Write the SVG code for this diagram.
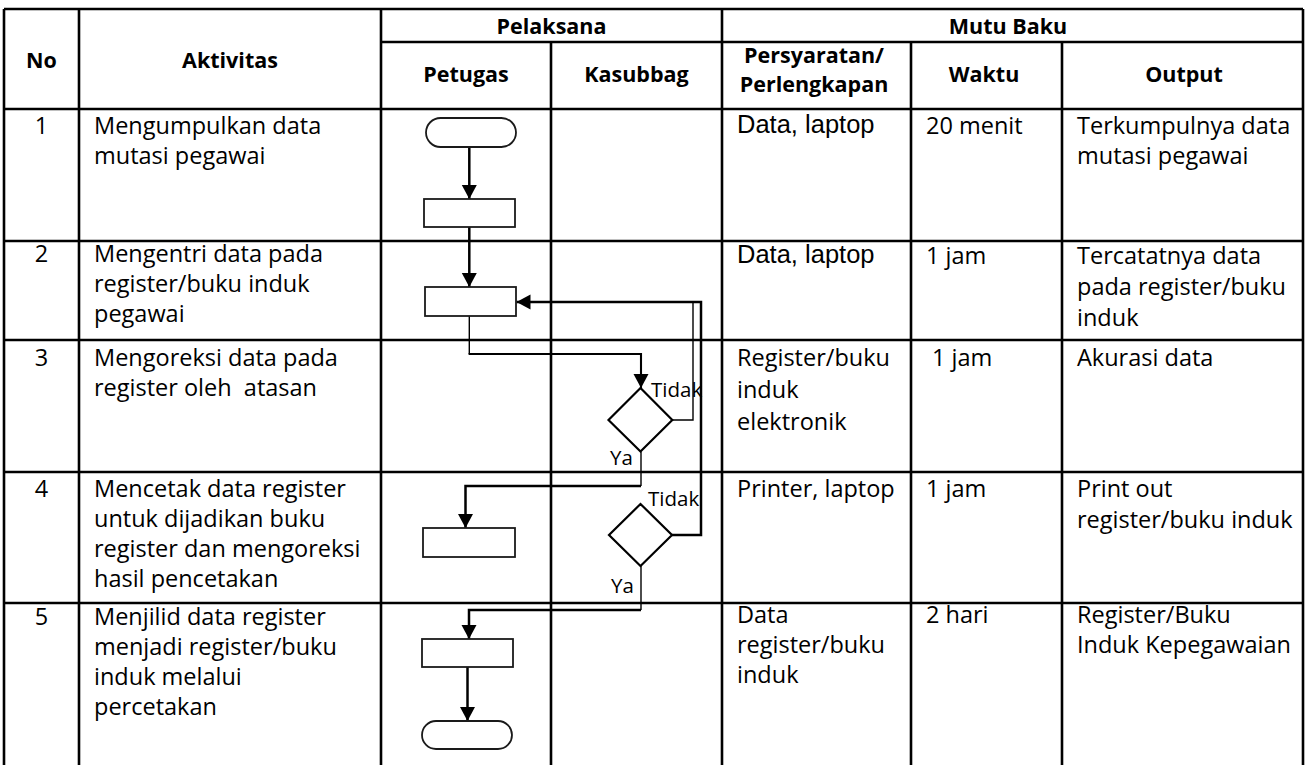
<svg xmlns="http://www.w3.org/2000/svg" width="1306" height="765" viewBox="0 0 1306 765">
<style>
.grid line{stroke:#000;stroke-width:2.6}
.h{font-family:"Open Sans","Noto Sans",sans-serif;font-weight:bold;font-size:21.5px;text-anchor:middle;fill:#000}
.t{font-family:"Open Sans","Noto Sans",sans-serif;font-size:23.5px;fill:#000}
.n{font-family:"Open Sans","Noto Sans",sans-serif;font-size:23.5px;fill:#000;text-anchor:middle}
.a{font-family:"Liberation Sans",Arial,sans-serif;font-size:25.5px;fill:#000}
.lb{font-family:"Open Sans","Noto Sans",sans-serif;font-size:20.5px;fill:#000}
.box{fill:#fff;stroke:#1a1a1a;stroke-width:1.8}
.dia{fill:#fff;stroke:#000;stroke-width:2.2}
.c{fill:none;stroke:#000;stroke-linejoin:miter}
.thick{stroke-width:2.5}
.mid{stroke-width:2.1}
.thin{stroke-width:1.4}
</style>
<defs>
<marker id="ah" markerUnits="userSpaceOnUse" markerWidth="15" markerHeight="16" refX="14" refY="7.5" orient="auto">
<path d="M0,0 L14,7.5 L0,15 z" fill="#000"/>
</marker>
</defs>
<rect x="0" y="0" width="1306" height="765" fill="#fff"/>
<g id="table" class="grid">
<line x1="4" y1="9" x2="1303" y2="9"/>
<line x1="381" y1="42" x2="1303" y2="42"/>
<line x1="4" y1="109" x2="1303" y2="109"/>
<line x1="4" y1="241" x2="1303" y2="241"/>
<line x1="4" y1="340" x2="1303" y2="340"/>
<line x1="4" y1="472" x2="1303" y2="472"/>
<line x1="4" y1="603" x2="1303" y2="603"/>
<line x1="4" y1="9" x2="4" y2="765"/>
<line x1="79" y1="9" x2="79" y2="765"/>
<line x1="381" y1="9" x2="381" y2="765"/>
<line x1="551" y1="42" x2="551" y2="765"/>
<line x1="722" y1="9" x2="722" y2="765"/>
<line x1="911" y1="42" x2="911" y2="765"/>
<line x1="1062" y1="42" x2="1062" y2="765"/>
<line x1="1303" y1="9" x2="1303" y2="765"/>
</g>
<g id="headers">
<text class="h" x="41.5" y="68">No</text>
<text class="h" x="230" y="68">Aktivitas</text>
<text class="h" x="551.5" y="34">Pelaksana</text>
<text class="h" x="466" y="82">Petugas</text>
<text class="h" x="636.5" y="82">Kasubbag</text>
<text class="h" x="1008" y="34">Mutu Baku</text>
<text class="h" x="814" y="63">Persyaratan/</text>
<text class="h" x="814" y="92">Perlengkapan</text>
<text class="h" x="984" y="82">Waktu</text>
<text class="h" x="1184" y="82">Output</text>
</g>
<g id="row1">
<text class="n" x="41.5" y="134">1</text>
<text class="t" x="94" y="134">Mengumpulkan data</text>
<text class="t" x="94" y="164">mutasi pegawai</text>
<text class="a" x="737" y="133">Data, laptop</text>
<text class="t" x="926" y="134">20 menit</text>
<text class="t" x="1077" y="134">Terkumpulnya data</text>
<text class="t" x="1077" y="164">mutasi pegawai</text>
</g>
<g id="row2">
<text class="n" x="41.5" y="262">2</text>
<text class="t" x="94" y="262">Mengentri data pada</text>
<text class="t" x="94" y="292">register/buku induk</text>
<text class="t" x="94" y="322">pegawai</text>
<text class="a" x="737" y="263">Data, laptop</text>
<text class="t" x="926" y="264">1 jam</text>
<text class="t" x="1077" y="264">Tercatatnya data</text>
<text class="t" x="1077" y="295">pada register/buku</text>
<text class="t" x="1077" y="326">induk</text>
</g>
<g id="row3">
<text class="n" x="41.5" y="366">3</text>
<text class="t" x="94" y="366">Mengoreksi data pada</text>
<text class="t" x="94" y="396" style="white-space:pre">register oleh  atasan</text>
<text class="t" x="737" y="366">Register/buku</text>
<text class="t" x="737" y="398">induk</text>
<text class="t" x="737" y="430">elektronik</text>
<text class="t" x="932" y="366">1 jam</text>
<text class="t" x="1077" y="366">Akurasi data</text>
</g>
<g id="row4">
<text class="n" x="41.5" y="497">4</text>
<text class="t" x="94" y="497">Mencetak data register</text>
<text class="t" x="94" y="527">untuk dijadikan buku</text>
<text class="t" x="94" y="557">register dan mengoreksi</text>
<text class="t" x="94" y="587">hasil pencetakan</text>
<text class="t" x="737" y="497">Printer, laptop</text>
<text class="t" x="926" y="497">1 jam</text>
<text class="t" x="1077" y="497">Print out</text>
<text class="t" x="1077" y="528">register/buku induk</text>
</g>
<g id="row5">
<text class="n" x="41.5" y="625">5</text>
<text class="t" x="94" y="625">Menjilid data register</text>
<text class="t" x="94" y="655">menjadi register/buku</text>
<text class="t" x="94" y="685">induk melalui</text>
<text class="t" x="94" y="715">percetakan</text>
<text class="t" x="737" y="623">Data</text>
<text class="t" x="737" y="653">register/buku</text>
<text class="t" x="737" y="683">induk</text>
<text class="t" x="926" y="623">2 hari</text>
<text class="t" x="1077" y="623">Register/Buku</text>
<text class="t" x="1077" y="653">Induk Kepegawaian</text>
</g>
<g id="connectors">
<path class="c thick" d="M469.3,147 V199" marker-end="url(#ah)"/>
<path class="c thick" d="M469.3,227 V287" marker-end="url(#ah)"/>
<path class="c thin" d="M469.3,316 V354"/>
<path class="c mid" d="M468.6,354 H641 V388" marker-end="url(#ah)"/>
<path class="c thin" d="M672.3,420 H693 V302"/>
<path class="c thick" d="M672,535 H701 V302 H516.5" marker-end="url(#ah)"/>
<path class="c thin" d="M641,451.5 V486"/>
<path class="c thick" d="M641,486 H465.5 V528" marker-end="url(#ah)"/>
<path class="c thin" d="M641,566 V610"/>
<path class="c thick" d="M641,610 H469 V639" marker-end="url(#ah)"/>
<path class="c thick" d="M467.5,667 V721" marker-end="url(#ah)"/>
</g>
<g id="start"><rect class="box" x="426" y="118" width="90" height="29" rx="14.5"/></g>
<g id="step1"><rect class="box" x="424" y="199" width="91" height="28"/></g>
<g id="step2"><rect class="box" x="425" y="287" width="91" height="29"/></g>
<g id="decision1"><polygon class="dia" points="640.5,388 672.3,420 640.5,451.5 608.5,420"/></g>
<g id="step4"><rect class="box" x="423" y="528" width="92" height="29"/></g>
<g id="decision2"><polygon class="dia" points="640.5,504 672,535 640.5,566 609,535"/></g>
<g id="step5"><rect class="box" x="422" y="639" width="91" height="28"/></g>
<g id="end"><rect class="box" x="422" y="721" width="90" height="28" rx="14"/></g>
<g id="labels">
<text class="lb" x="651" y="397">Tidak</text>
<text class="lb" x="610" y="465">Ya</text>
<text class="lb" x="648" y="506">Tidak</text>
<text class="lb" x="611" y="593">Ya</text>
</g>
</svg>
